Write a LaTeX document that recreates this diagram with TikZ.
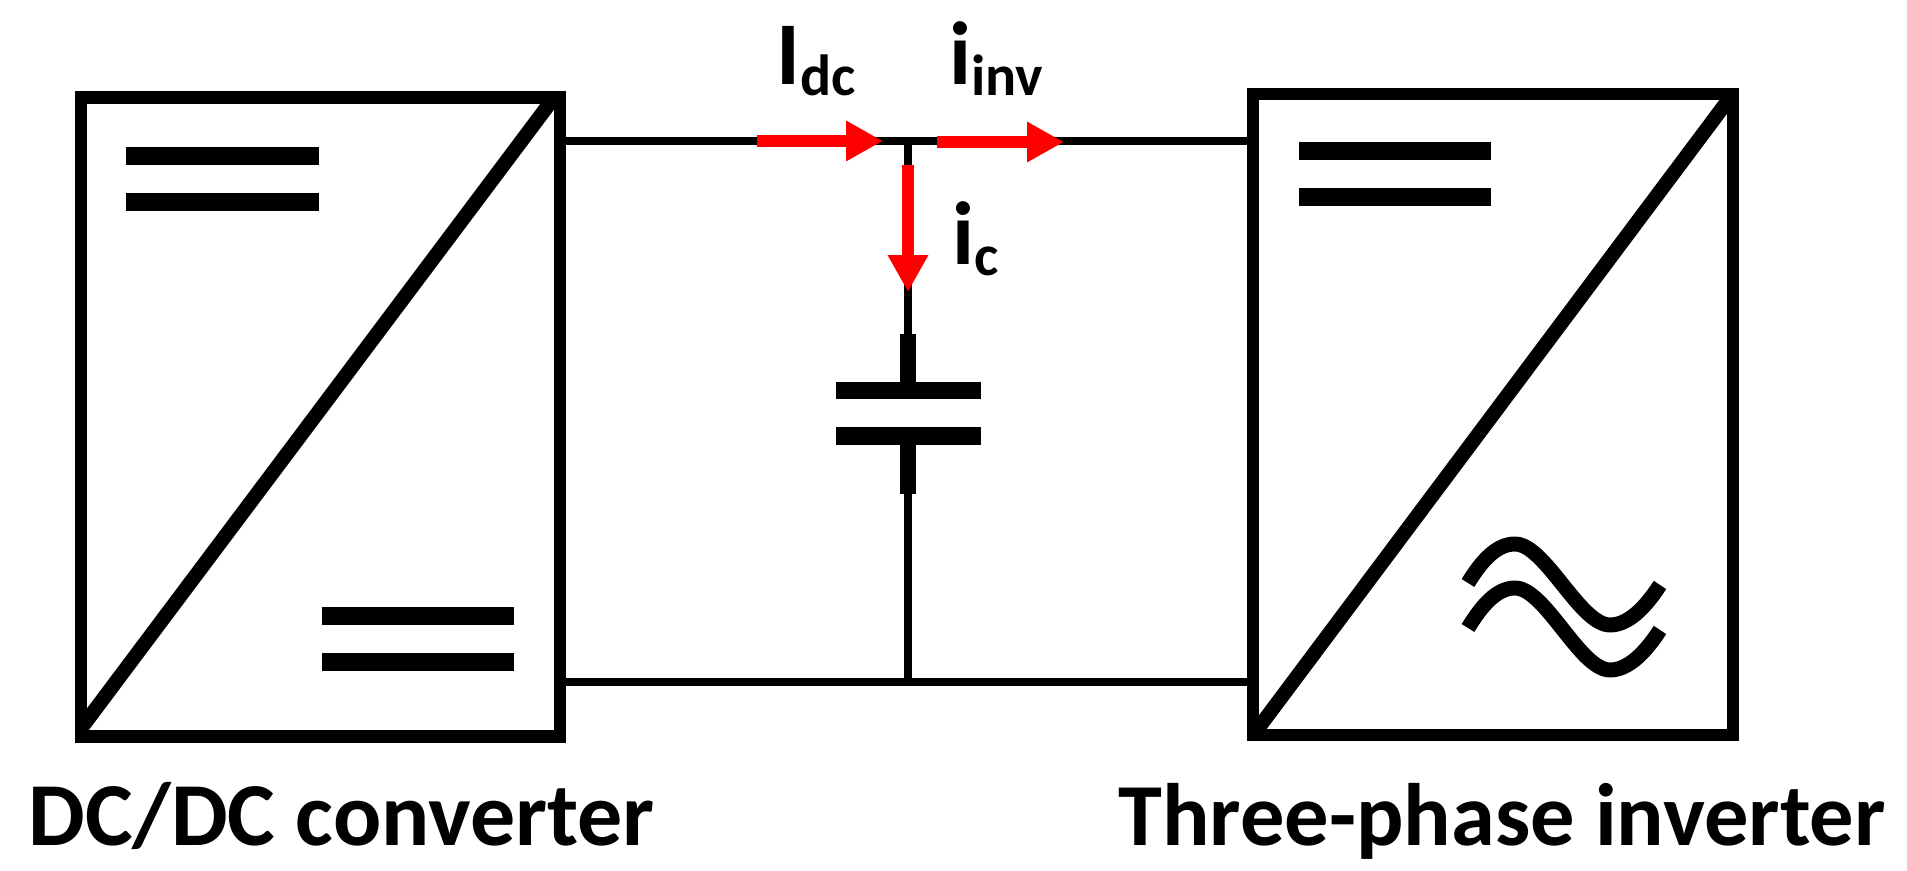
\documentclass[tikz,border=0pt]{standalone}
\usepackage{fontspec}
\setmainfont{Carlito}
\usetikzlibrary{arrows.meta}
\newcommand{\curlabel}[2]{\fontsize{51}{51}\selectfont\bfseries #1\raisebox{-5.7pt}{\fontsize{33}{33}\selectfont #2}}
\tikzset{
  conv/.style={draw, line width=7.1pt, minimum height=12.79cm, inner sep=0pt, outer sep=0pt, line join=miter},
  diag/.style={line width=8.2pt},
  wire/.style={line width=4.8pt},
  bar/.style={line width=9.7pt},
  stubline/.style={line width=9.5pt},
  wave/.style={line width=8.5pt},
  redarrow/.style={line width=7.2pt, red, -{Triangle[length=21pt,width=21.6pt]}},
  convlabel/.style={inner sep=0pt, anchor=base west, font=\fontsize{51.2}{51.2}\selectfont\bfseries},
  curnode/.style={inner sep=0pt, anchor=base west}
}
\begin{document}
\begin{tikzpicture}[x=0.02cm,y=-0.02cm]
\useasboundingbox (0,0) rectangle (1907,871);
\node(dcdc) [conv, minimum width=9.59cm] at (320.5,417) {};
\node(inv) [conv, minimum width=9.6cm, minimum height=12.83cm] at (1493,414.5) {};
\draw[diag] ([yshift=0.16cm]dcdc.south west) -- ([xshift=-0.12cm]dcdc.north east);
\draw[diag] (inv.south west) -- (inv.north east);
% junctions
\coordinate (jtop) at (908,141);
\coordinate (jbot) at (908,682);
\coordinate (tail) at (908,494);
\coordinate (stub) at (908,334);
\coordinate (plateA) at (908,390.5);
\coordinate (plateB) at (908,436);
\draw[wire] (jtop -| dcdc.east) -- (jtop -| inv.west);
\draw[wire] (jbot -| dcdc.east) -- (jbot -| inv.west);
\draw[wire] (jtop) -- (stub);
\draw[wire] (tail) -- (jbot);
% capacitor
\draw[stubline] (stub) -- (plateA);
\draw[stubline] (plateB) -- (tail);
\draw[bar] (836,390.5) -- (981,390.5);
\draw[bar] (836,436) -- (981,436);
% dc and ac signs
\draw[bar] (126,156) -- (319,156);
\draw[bar] (126,202) -- (319,202);
\draw[bar] (322,616) -- (514,616);
\draw[bar] (322,662) -- (514,662);
\draw[bar] (1299,151) -- (1491,151);
\draw[bar] (1299,197) -- (1491,197);
\draw[wave] (1468,583) .. controls (1482,560) and (1497,544) .. (1515,544) .. controls (1545,544) and (1580,625) .. (1610,625) .. controls (1628,625) and (1645,608) .. (1660,585);
\draw[wave] (1468,628) .. controls (1482,605) and (1497,588) .. (1515,588) .. controls (1545,588) and (1580,670) .. (1610,670) .. controls (1628,670) and (1645,653) .. (1660,630);
% currents
\coordinate (a1) at (757,141);
\coordinate (a2) at (883,141);
\coordinate (b1) at (937,142);
\coordinate (b2) at (1064,142);
\coordinate (c1) at (908,165);
\coordinate (c2) at (908,292);
\draw[redarrow] (a1) -- (a2);
\draw[redarrow] (b1) -- (b2);
\draw[redarrow] (c1) -- (c2);
\node(Idc) [curnode] at (776,85) {\curlabel{I}{dc}};
\node(iinv) [curnode] at (949,85) {\curlabel{i}{inv}};
\node(ic) [curnode] at (952,265) {\curlabel{i}{c}};
\node(A) [convlabel] at (28,845) {DC/DC converter};
\node(B) [convlabel, font=\fontsize{50.4}{50.4}\selectfont\bfseries] at (1118,845) {Three-phase inverter};
\end{tikzpicture}
\end{document}
